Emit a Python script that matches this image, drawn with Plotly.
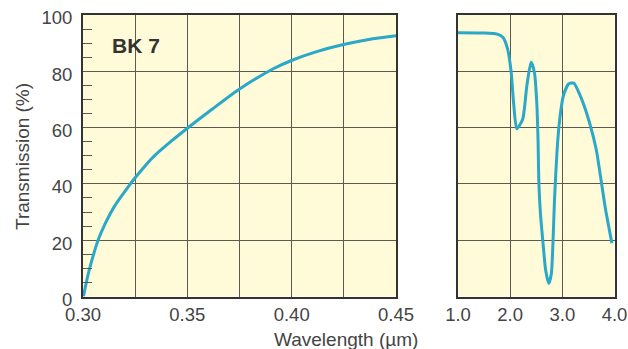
import plotly.graph_objects as go

# Left panel: BK 7 UV transmission
uv_wavelength = [0.3002, 0.3025, 0.3049, 0.3070, 0.3104, 0.3152, 0.3215, 0.3247, 0.3286, 0.3337, 0.3420, 0.3497, 0.3620, 0.3752, 0.3912, 0.4008, 0.4120, 0.4248, 0.4370, 0.4500]
uv_transmission = [0.0, 8.0, 14.5, 19.5, 25.5, 32.2, 38.8, 41.9, 45.4, 49.6, 55.0, 59.6, 66.6, 73.8, 80.9, 84.1, 87.0, 89.5, 91.3, 92.6]

# Right panel: IR transmission
ir_wavelength = [1.0, 1.5, 1.75, 1.86, 1.95, 2.02, 2.065, 2.127, 2.24, 2.32, 2.40, 2.465, 2.51, 2.535, 2.55, 2.58, 2.63, 2.68, 2.74, 2.79, 2.82, 2.85, 2.90, 2.95, 3.02, 3.12, 3.22, 3.37, 3.52, 3.65, 3.75, 3.83, 3.95]
ir_transmission = [93.7, 93.6, 93.2, 92.1, 88.0, 79.6, 68.9, 59.6, 63.0, 74.9, 83.2, 79.6, 68.9, 55.0, 40.4, 29.6, 18.9, 9.4, 4.6, 8.2, 18.9, 34.4, 52.2, 63.0, 71.3, 75.5, 75.8, 70.1, 61.8, 52.2, 40.4, 30.8, 18.9]

uv_ticks = [0.30, 0.35, 0.40, 0.45]
uv_ticklabels = ["0.30", "0.35", "0.40", "0.45"]
ir_ticks = [1.0, 2.0, 3.0, 4.0]
ir_ticklabels = ["1.0", "2.0", "3.0", "4.0"]
y_ticks = [0, 20, 40, 60, 80, 100]

LINE = "#2aa8c8"
BG = "#fffad8"
GRID = "#5a5a50"
BORDER = "#333333"
FONT = "Liberation Sans, Arial, sans-serif"
TXT = "#444444"

# the page's body margin is removed below, so the figure fills the 628x349 window
W, H = 628, 349


def px(x):
    return x / W


def py(y):
    return 1 - y / H


fig = go.Figure()
fig.add_trace(go.Scatter(x=uv_wavelength, y=uv_transmission, mode="lines",
                         line=dict(color=LINE, width=3, shape="spline", smoothing=0.7),
                         xaxis="x", yaxis="y", showlegend=False))
fig.add_trace(go.Scatter(x=ir_wavelength, y=ir_transmission, mode="lines",
                         line=dict(color=LINE, width=3, shape="spline", smoothing=0.6),
                         xaxis="x2", yaxis="y2", showlegend=False))

ydom = [py(296.5), py(15)]
common_axis = dict(showline=True, mirror=True, linecolor=BORDER, linewidth=2,
                   gridcolor=GRID, gridwidth=1, zeroline=False, automargin=False,
                   ticklabeloverflow="allow",
                   tickfont=dict(family=FONT, size=18.5, color=TXT))

fig.update_layout(
    width=W, height=H,
    margin=dict(l=0, r=0, t=0, b=0),
    paper_bgcolor="white", plot_bgcolor=BG,
    xaxis=dict(domain=[px(83), px(396)], range=[0.30, 0.45], tickvals=uv_ticks, ticktext=uv_ticklabels,
               ticks="", showgrid=True, anchor="y",
               minor=dict(dtick=0.025, tick0=0.3, showgrid=True, gridcolor=GRID, gridwidth=1),
               **common_axis),
    yaxis=dict(domain=ydom, range=[0, 100], tickvals=y_ticks, ticks="inside", ticklen=9,
               tickcolor=GRID, showgrid=True, anchor="x", ticklabelstandoff=5, ticklabelshift=3,
               minor=dict(dtick=5, tick0=0, ticks="inside", ticklen=9, tickcolor=GRID, showgrid=False),
               **common_axis),
    xaxis2=dict(domain=[px(458), px(614.5)], range=[1.0, 4.0], tickvals=ir_ticks, ticktext=ir_ticklabels,
                ticks="", showgrid=True, anchor="y2", **common_axis),
    yaxis2=dict(domain=ydom, range=[0, 100], tickvals=y_ticks, showticklabels=False, ticks="",
                showgrid=True, anchor="x2", **common_axis),
    annotations=[
        dict(text="<b>BK 7</b>", x=0.3129, y=89, xref="x", yref="y", xanchor="left", yanchor="middle",
             showarrow=False, font=dict(family=FONT, size=21, color="#333333")),
        dict(text="Transmission (%)", x=px(22), y=py(157), xref="paper", yref="paper",
             xanchor="center", yanchor="middle",
             textangle=-90, showarrow=False, font=dict(family=FONT, size=19, color=TXT)),
        dict(text="Wavelength (µm)", x=px(346), y=py(339), xref="paper", yref="paper",
             xanchor="center", yanchor="middle",
             showarrow=False, font=dict(family=FONT, size=19, color=TXT)),
    ],
)

fig.write_html("out.html", config={"displayModeBar": False},
               post_script="document.body.style.margin='0';document.body.style.overflow='hidden';")
